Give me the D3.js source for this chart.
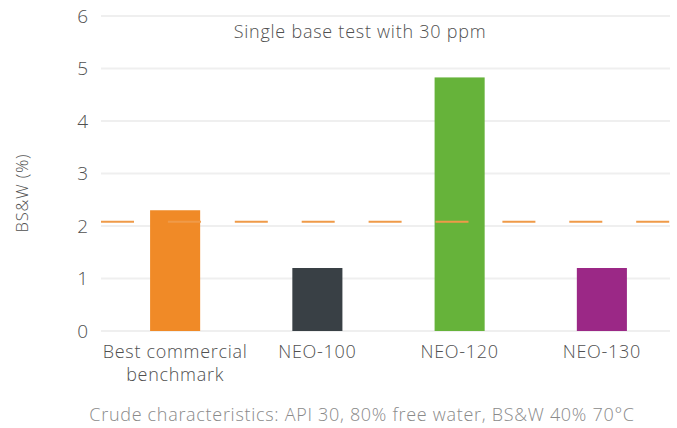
<!DOCTYPE html>
<html><head><meta charset="utf-8">
<script src="https://cdn.jsdelivr.net/npm/d3@7"></script>
<style>body{margin:0;background:#fff}svg{display:block}text{font-family:"Open Sans",Lato,sans-serif;font-weight:300}</style>
</head><body>
<script>
const categories = ["Best commercial\nbenchmark", "NEO-100", "NEO-120", "NEO-130"];
const values = [2.3, 1.2, 4.83, 1.2];
const barColors = ["#f08a27", "#394045", "#66b33a", "#9b2886"];
const referenceLevel = 2.08;
const yTicks = [0, 1, 2, 3, 4, 5, 6];
const title = "Single base test with 30 ppm";
const yLabel = "BS&W (%)";
const footnote = "Crude characteristics: API 30, 80% free water, BS&W 40% 70°C";

const W = 677, H = 428;
const svg = d3.select("body").append("svg").attr("width", W).attr("height", H);

const y = d3.scaleLinear().domain([0, 6]).range([331, 16]);
const x = d3.scaleBand().domain(categories).range([104, 673]).padding(0);
const gridX0 = 101, gridX1 = 670;
const barW = x.bandwidth() * 0.352;
const txt = "#505050";

// gridlines
svg.append("g").selectAll("line").data(yTicks).join("line")
  .attr("x1", gridX0).attr("x2", gridX1)
  .attr("y1", d => y(d)).attr("y2", d => y(d))
  .attr("stroke", "#efefef").attr("stroke-width", 2);

// y axis labels
const yAxis = d3.axisLeft(y).tickValues(yTicks).tickFormat(d3.format("d")).tickSize(0).tickPadding(0);
const ya = svg.append("g").attr("transform", "translate(88,0)").call(yAxis);
ya.select(".domain").remove();
ya.selectAll("text").attr("font-size", 19).attr("fill", txt)
  .style("font-family", '"Open Sans",Lato,sans-serif').style("font-weight", 300);

// bars
svg.append("g").selectAll("rect").data(values).join("rect")
  .attr("x", (d, i) => x(categories[i]) + x.bandwidth() / 2 - barW / 2)
  .attr("width", barW)
  .attr("y", d => y(d))
  .attr("height", d => y(0) - y(d))
  .attr("fill", (d, i) => barColors[i]);

// reference dashed line
svg.append("line")
  .attr("x1", gridX0).attr("x2", gridX1)
  .attr("y1", y(referenceLevel)).attr("y2", y(referenceLevel))
  .attr("stroke", "#ef9a48").attr("stroke-width", 2)
  .attr("stroke-dasharray", "33,33.9");

// category labels
const cg = svg.append("g");
categories.forEach((c, i) => {
  const cx = x(c) + x.bandwidth() / 2;
  const t = cg.append("text").attr("x", cx).attr("y", 358)
    .attr("text-anchor", "middle").attr("font-size", 18).attr("letter-spacing", 0.7).attr("fill", txt);
  c.split("\n").forEach((line, j) => {
    t.append("tspan").attr("x", cx).attr("dy", j === 0 ? 0 : 23).text(line);
  });
});

// title
svg.append("text").attr("x", 360).attr("y", 38).attr("text-anchor", "middle")
  .attr("font-size", 18).attr("letter-spacing", 0.75).attr("fill", txt).text(title);

// y label
svg.append("text").attr("transform", "translate(28,193) rotate(-90)")
  .attr("text-anchor", "middle").attr("font-size", 16.5).attr("letter-spacing", 0.8).attr("fill", txt).text(yLabel);

// footnote
svg.append("text").attr("x", 362).attr("y", 421).attr("text-anchor", "middle")
  .attr("font-size", 18).attr("letter-spacing", 0.7).attr("fill", "#8a8a8a").text(footnote);
</script>
</body></html>
